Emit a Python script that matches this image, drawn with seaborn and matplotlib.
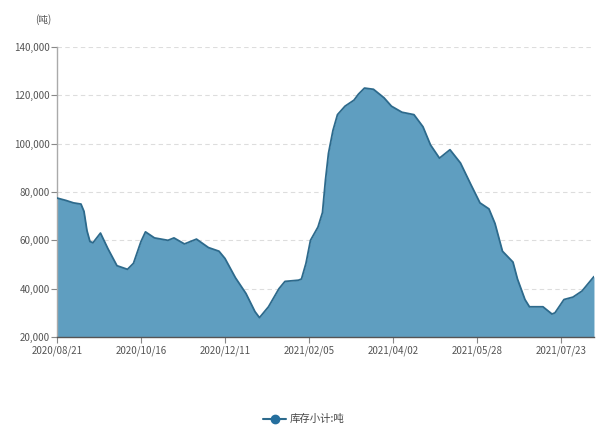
import pandas as pd
import numpy as np
import matplotlib
matplotlib.use('Agg')
import matplotlib.pyplot as plt
import matplotlib.dates as mdates
from matplotlib.ticker import FuncFormatter
from matplotlib.lines import Line2D
import seaborn as sns

# values (tons)
dates = ['2020-08-21', '2020-08-27', '2020-09-01', '2020-09-06', '2020-09-08', '2020-09-10',
         '2020-09-12', '2020-09-14', '2020-09-19', '2020-09-24', '2020-09-30', '2020-10-07',
         '2020-10-11', '2020-10-16', '2020-10-19', '2020-10-25', '2020-11-03', '2020-11-07',
         '2020-11-14', '2020-11-22', '2020-11-30', '2020-12-07', '2020-12-11', '2020-12-18',
         '2020-12-25', '2020-12-31', '2021-01-03', '2021-01-09', '2021-01-16', '2021-01-20',
         '2021-01-29', '2021-01-31', '2021-02-03', '2021-02-06', '2021-02-11', '2021-02-14',
         '2021-02-16', '2021-02-18', '2021-02-21', '2021-02-24', '2021-03-01', '2021-03-07',
         '2021-03-10', '2021-03-14', '2021-03-20', '2021-03-27', '2021-04-01', '2021-04-08',
         '2021-04-16', '2021-04-22', '2021-04-27', '2021-05-03', '2021-05-10', '2021-05-17',
         '2021-05-24', '2021-05-30', '2021-06-05', '2021-06-09', '2021-06-14', '2021-06-21',
         '2021-06-24', '2021-06-29', '2021-07-02', '2021-07-11', '2021-07-14', '2021-07-17',
         '2021-07-19', '2021-07-25', '2021-07-31', '2021-08-06', '2021-08-14']
stock = [77500, 76500, 75500, 75000, 72000, 64000,
         59500, 59000, 63000, 56500, 49500, 48000,
         50500, 59500, 63500, 61000, 60000, 61000,
         58500, 60500, 57000, 55500, 52500, 44500,
         38000, 30500, 28000, 32500, 40000, 43000,
         43500, 44000, 50500, 60000, 65500, 71500,
         85000, 96000, 105500, 112000, 115500, 118000,
         120500, 123000, 122500, 119000, 115500, 113000,
         112000, 107000, 99500, 94000, 97500, 92000,
         83000, 75500, 73000, 67000, 55500, 51000,
         44000, 35500, 32500, 32500, 31000, 29500,
         30000, 35500, 36500, 39000, 45000]
tick_dates = ['2020-08-21', '2020-10-16', '2020-12-11', '2021-02-05',
              '2021-04-02', '2021-05-28', '2021-07-23']
y_ticks = [20000, 40000, 60000, 80000, 100000, 120000, 140000]
series_name = '库存小计:吨'
unit_label = '(吨)'

df = pd.DataFrame({'date': pd.to_datetime(dates), 'stock': stock})

sns.set_theme(style='white')
plt.rcParams['font.family'] = ['Noto Sans CJK SC', 'DejaVu Sans']

fill_c = '#5f9ec0'
line_c = '#2d6a8c'

fig = plt.figure(figsize=(5.96, 4.30), dpi=100)
ax = fig.add_axes([0.0956, 0.2163, 0.901, 0.6744])

ax.fill_between(df['date'], df['stock'], 20000, color=fill_c, linewidth=0, zorder=2)
sns.lineplot(data=df, x='date', y='stock', ax=ax, color=line_c, linewidth=1.3, zorder=3)

ax.set_xlim(df['date'].iloc[0], df['date'].iloc[-1])
ax.set_ylim(20000, 140000)
ax.set_yticks(y_ticks)
ax.yaxis.set_major_formatter(FuncFormatter(lambda v, p: f'{int(v):,}'))
ax.set_xticks(pd.to_datetime(tick_dates))
ax.xaxis.set_major_formatter(mdates.DateFormatter('%Y/%m/%d'))
ax.set_xlabel('')
ax.set_ylabel('')

ax.yaxis.grid(True, linestyle=(0, (4, 3)), color='#dddddd', linewidth=0.8, zorder=0)
ax.xaxis.grid(False)
for s in ['top', 'right']:
    ax.spines[s].set_visible(False)
ax.spines['left'].set_color('#aaaaaa')
ax.spines['left'].set_linewidth(1.0)
ax.spines['bottom'].set_color('#555555')
ax.spines['bottom'].set_linewidth(1.0)
ax.spines['bottom'].set_zorder(4)
ax.tick_params(axis='y', which='major', direction='out', length=4, width=0.8,
               color='#888888', labelsize=7, labelcolor='#555555', pad=1, left=True)
ax.tick_params(axis='x', which='major', direction='out', length=4, width=0.8,
               color='#888888', labelsize=7, labelcolor='#555555', pad=2, bottom=True)

fig.text(0.072, 0.955, unit_label, fontsize=7, color='#555555', ha='center', va='center')

handle = Line2D([0], [0], color=line_c, linewidth=1.5, marker='o', markersize=6,
                markerfacecolor='#256f9e', markeredgecolor='#256f9e')
fig.legend([handle], [series_name], loc='center', bbox_to_anchor=(0.51, 0.025),
           frameon=False, fontsize=7.5, handlelength=2.2, handletextpad=0.4,
           labelcolor='#444444')

fig.savefig('out.png', dpi=100)
